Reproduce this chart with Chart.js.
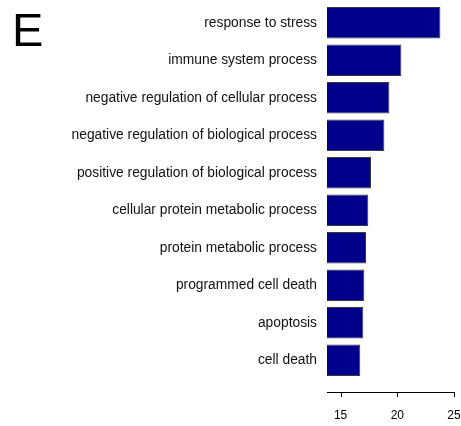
<!DOCTYPE html>
<html>
<head>
<meta charset="utf-8">
<script src="https://cdn.jsdelivr.net/npm/chart.js@4/dist/chart.umd.min.js"></script>
<style>
  html, body { margin: 0; padding: 0; background: #fff; }
  #wrap { width: 461px; height: 426px; }
</style>
</head>
<body>
<div id="wrap"><canvas id="chart" width="461" height="426"></canvas></div>
<script>
// GO terms, top to bottom
const terms = [
  'response to stress',
  'immune system process',
  'negative regulation of cellular process',
  'negative regulation of biological process',
  'positive regulation of biological process',
  'cellular protein metabolic process',
  'protein metabolic process',
  'programmed cell death',
  'apoptosis',
  'cell death'
];
// bar lengths
const scores = [23.8, 20.36, 19.3, 18.86, 17.68, 17.44, 17.24, 17.09, 17.0, 16.73];
const xTicks = [15, 20, 25];
const panelLabel = 'E';

const FONT = '"Liberation Sans", Arial, sans-serif';

// R-style bottom axis, drawn a bit below the bars
const axisPlugin = {
  id: 'rAxis',
  afterDraw(chart) {
    const ctx = chart.ctx;
    const x = chart.scales.x;
    const area = chart.chartArea;
    const y = area.bottom + 13;
    ctx.save();
    ctx.strokeStyle = '#000';
    ctx.lineWidth = 1;
    ctx.beginPath();
    ctx.moveTo(area.left, y + 0.5);
    ctx.lineTo(area.right, y + 0.5);
    xTicks.forEach(v => {
      const px = Math.round(x.getPixelForValue(v)) + 0.5;
      ctx.moveTo(px, y);
      ctx.lineTo(px, y + 5);
    });
    ctx.stroke();
    ctx.fillStyle = '#000';
    ctx.font = '12px ' + FONT;
    ctx.textAlign = 'center';
    ctx.textBaseline = 'middle';
    xTicks.forEach(v => ctx.fillText(String(v), x.getPixelForValue(v), y + 24));
    // panel letter
    ctx.font = '47px ' + FONT;
    ctx.textAlign = 'left';
    ctx.textBaseline = 'alphabetic';
    ctx.fillText(panelLabel, 12, 46);
    ctx.restore();
  }
};

new Chart(document.getElementById('chart'), {
  type: 'bar',
  data: {
    labels: terms,
    datasets: [{
      data: scores,
      backgroundColor: '#00008B',
      borderColor: '#3a3a3a',
      borderWidth: 1,
      borderSkipped: false,
      barPercentage: 0.84,
      categoryPercentage: 1.0
    }]
  },
  options: {
    indexAxis: 'y',
    responsive: false,
    animation: false,
    layout: { padding: { left: 0, right: 7, top: 4, bottom: 47 } },
    plugins: {
      legend: { display: false },
      tooltip: { enabled: false }
    },
    scales: {
      x: {
        display: false,
        min: 13.8,
        max: 25
      },
      y: {
        afterFit(scale) {
          scale.width = 327;
          scale.paddingTop = 0;
          scale.paddingBottom = 0;
        },
        grid: { display: false, drawTicks: false },
        border: { display: false },
        ticks: {
          padding: 10,
          color: '#111',
          font: { family: FONT, size: 13.8 }
        }
      }
    }
  },
  plugins: [axisPlugin]
});
</script>
</body>
</html>
